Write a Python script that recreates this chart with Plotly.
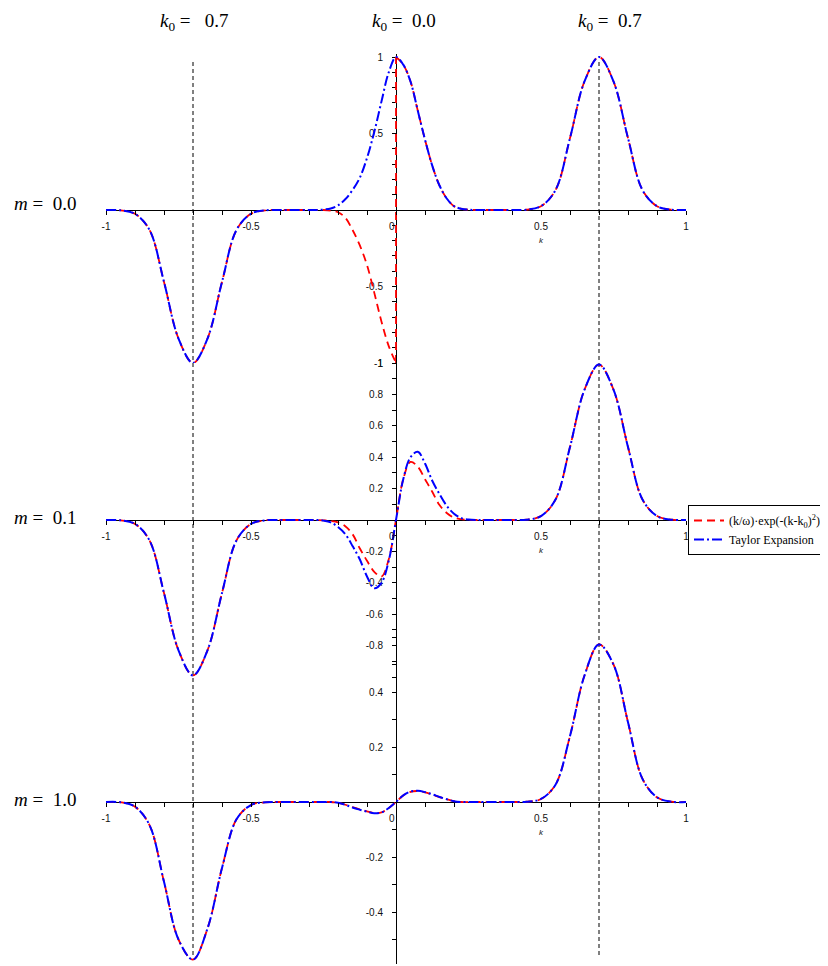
import plotly.graph_objects as go

# ---------------- data ----------------
K = [-1.0, -0.95, -0.9, -0.85, -0.8, -0.75, -0.7, -0.65, -0.6, -0.55, -0.5, -0.45, -0.4, -0.35, -0.3,
     -0.275, -0.25, -0.225, -0.2, -0.175, -0.15, -0.125, -0.1, -0.075, -0.05, -0.025, 0.0,
     0.025, 0.05, 0.075, 0.1, 0.125, 0.15, 0.175, 0.2, 0.225, 0.25, 0.275,
     0.3, 0.35, 0.4, 0.45, 0.5, 0.55, 0.6, 0.65, 0.7, 0.75, 0.8, 0.85, 0.9, 0.95, 1.0]

K0_VALUES = [-0.7, 0.0, 0.7]
K0_LABELS = ["<i>k</i><sub>0</sub>\u00a0=\u00a0\u00a0 0.7",
             "<i>k</i><sub>0</sub>\u00a0=\u00a0 0.0",
             "<i>k</i><sub>0</sub>\u00a0=\u00a0 0.7"]
M_LABELS = ["<i>m</i>\u00a0=\u00a0 0.0", "<i>m</i>\u00a0=\u00a0 0.1", "<i>m</i>\u00a0=\u00a0 1.0"]
SERIES_NAMES = ["(k/\u03c9)\u00b7exp(-(k-k<sub>0</sub>)<sup>2</sup>)", "Taylor Expansion"]

# m = 0.0 : exact curve jumps at k = 0, so it is given in two halves
RED_M0_NEG = [0, -0.002, -0.025, -0.13, -0.47, -0.84, -1.0, -0.84, -0.47, -0.13, -0.025, -0.002, 0, 0, 0,
              0, 0, -0.004, -0.015, -0.05, -0.13, -0.23, -0.36, -0.54, -0.73, -0.89, -1.0]
RED_M0_POS = [1.0, 0.95, 0.84, 0.65, 0.46, 0.29, 0.16, 0.075, 0.025, 0.008, 0.002, 0,
              0, 0, 0, 0.002, 0.025, 0.13, 0.47, 0.84, 1.0, 0.84, 0.47, 0.13, 0.025, 0.002, 0]
BLUE_M0 = [0, -0.002, -0.025, -0.13, -0.47, -0.84, -1.0, -0.84, -0.47, -0.13, -0.025, -0.002, 0, 0, 0,
           0, 0.003, 0.01, 0.03, 0.07, 0.13, 0.21, 0.34, 0.51, 0.71, 0.90, 1.0,
           0.95, 0.84, 0.65, 0.46, 0.29, 0.16, 0.075, 0.025, 0.008, 0.002, 0,
           0, 0, 0, 0.002, 0.025, 0.13, 0.47, 0.84, 1.0, 0.84, 0.47, 0.13, 0.025, 0.002, 0]

# m = 0.1
RED_M01 = [0, -0.002, -0.025, -0.13, -0.465, -0.83, -0.99, -0.83, -0.465, -0.13, -0.025, -0.002, 0, 0, 0,
           0, -0.002, -0.006, -0.015, -0.04, -0.09, -0.18, -0.26, -0.33, -0.36, -0.25, 0,
           0.26, 0.37, 0.34, 0.26, 0.18, 0.095, 0.045, 0.015, 0.005, 0.001, 0,
           0, 0, 0, 0.002, 0.025, 0.13, 0.465, 0.83, 0.99, 0.83, 0.465, 0.13, 0.025, 0.002, 0]
BLUE_M01 = [0, -0.002, -0.025, -0.13, -0.465, -0.83, -0.99, -0.83, -0.465, -0.13, -0.025, -0.002, 0, 0, 0,
            0, -0.004, -0.015, -0.045, -0.09, -0.165, -0.25, -0.36, -0.435, -0.40, -0.26, 0,
            0.26, 0.40, 0.435, 0.36, 0.25, 0.165, 0.09, 0.04, 0.012, 0.003, 0,
            0, 0, 0, 0.002, 0.025, 0.13, 0.465, 0.83, 0.99, 0.83, 0.465, 0.13, 0.025, 0.002, 0]

# m = 1.0
RED_M1 = [0, -0.001, -0.017, -0.084, -0.29, -0.50, -0.573, -0.46, -0.24, -0.063, -0.011, -0.001, 0, 0, 0,
          0, 0, 0, -0.003, -0.01, -0.019, -0.027, -0.034, -0.04, -0.038, -0.022, 0,
          0.024, 0.037, 0.04, 0.035, 0.027, 0.018, 0.01, 0.003, 0, 0, 0,
          0, 0, 0, 0.001, 0.011, 0.063, 0.24, 0.46, 0.573, 0.50, 0.29, 0.084, 0.017, 0.001, 0]
BLUE_M1 = [0, -0.001, -0.017, -0.084, -0.29, -0.50, -0.573, -0.46, -0.24, -0.063, -0.011, -0.001, 0, 0, 0,
           0, 0, 0, -0.003, -0.01, -0.02, -0.028, -0.035, -0.041, -0.038, -0.022, 0,
           0.024, 0.038, 0.041, 0.036, 0.028, 0.018, 0.01, 0.003, 0, 0, 0,
           0, 0, 0, 0.001, 0.011, 0.063, 0.24, 0.46, 0.573, 0.50, 0.29, 0.084, 0.017, 0.001, 0]

# y tick labels per panel
Y_TICKS = [
    ([-1, -0.5, 0.5, 1], ["-1", "-0.5", "0.5", "1"]),
    ([-0.8, -0.6, -0.4, -0.2, 0.2, 0.4, 0.6, 0.8, 1], ["-0.8", "-0.6", "-0.4", "-0.2", "0.2", "0.4", "0.6", "0.8", "1"]),
    ([-0.4, -0.2, 0.2, 0.4], ["-0.4", "-0.2", "0.2", "0.4"]),
]
X_TICKVALS = [-1, -0.5, 0, 0.5, 1]
X_TICKTEXT = ["-1", "-0.5", "0\u00a0\u00a0\u00a0", "0.5<br><span style='font-size:8px'><i>k</i></span>", "1"]

# ---------------- layout geometry (page pixels) ----------------
PAGE_W, PAGE_H = 828, 966
BODY = 8                      # default page margin around the plot div
W, H = PAGE_W - BODY, PAGE_H - BODY


def fx(p):
    return (p - BODY) / W


def fy(p):
    return 1 - (p - BODY) / H


X0_PIX, X_UNIT = 396, 290
PANELS = [  # zero-line pixel, pixels per unit, y range
    dict(zero=210, unit=153, rng=[-1.0, 1.02]),
    dict(zero=520, unit=157, rng=[-1.0, 1.06]),
    dict(zero=802, unit=275, rng=[-0.59, 0.62]),
]

RED = "#ff0000"
BLUE = "#0000ff"
RED_DASH = "8px,5px"
BLUE_DASH = "10px,3px,2px,3px"

fig = go.Figure()

# panel 1 red: two halves plus the vertical jump, separated by gaps
red1_x = K[:27] + [None, 0.0, 0.0, None] + K[26:]
red1_y = RED_M0_NEG + [None, RED_M0_NEG[-1], RED_M0_POS[0], None] + RED_M0_POS

series = [
    (red1_x, red1_y, BLUE_M0),
    (K, RED_M01, BLUE_M01),
    (K, RED_M1, BLUE_M1),
]

for i, (rx, ry, by) in enumerate(series):
    ax = "" if i == 0 else str(i + 1)
    fig.add_trace(go.Scatter(
        x=rx, y=ry, mode="lines", name=SERIES_NAMES[0], legendgroup="red",
        showlegend=(i == 0), connectgaps=False,
        line=dict(color=RED, width=1.8, dash=RED_DASH, shape="spline", smoothing=1.0),
        xaxis="x" + ax, yaxis="y" + ax, hoverinfo="skip"))
    fig.add_trace(go.Scatter(
        x=K, y=by, mode="lines", name=SERIES_NAMES[1], legendgroup="blue",
        showlegend=(i == 0),
        line=dict(color=BLUE, width=2, dash=BLUE_DASH, shape="spline", smoothing=1.0),
        xaxis="x" + ax, yaxis="y" + ax, hoverinfo="skip"))

tickfont = dict(family="Liberation Sans", size=10, color="#111111")
layout = dict(
    width=W, height=H,
    margin=dict(l=0, r=0, t=0, b=0, autoexpand=False),
    paper_bgcolor="white", plot_bgcolor="rgba(0,0,0,0)",
    showlegend=True,
    legend=dict(x=fx(688), y=fy(505), xanchor="left", yanchor="top",
                bordercolor="black", borderwidth=1, bgcolor="white",
                font=dict(family="Liberation Serif", size=12, color="black"),
                itemwidth=30, tracegroupgap=0),
)

for i, p in enumerate(PANELS):
    ax = "" if i == 0 else str(i + 1)
    top = p["zero"] - p["rng"][1] * p["unit"]
    bot = p["zero"] - p["rng"][0] * p["unit"]
    layout["xaxis" + ax] = dict(
        domain=[fx(X0_PIX - X_UNIT), fx(X0_PIX + X_UNIT)], range=[-1, 1],
        anchor="free", position=fy(p["zero"]), side="bottom",
        showline=False, zeroline=False, showgrid=False,
        ticks="outside", ticklen=4, tickwidth=1, tickcolor="black",
        tickmode="array", tickvals=X_TICKVALS, ticktext=X_TICKTEXT,
        tickfont=tickfont, ticklabelstandoff=3,
        minor=dict(tickmode="linear", tick0=0, dtick=0.1, ticks="outside",
                   ticklen=4, tickwidth=1, tickcolor="black", showgrid=False),
    )
    tv, tt = Y_TICKS[i]
    layout["yaxis" + ax] = dict(
        domain=[fy(bot), fy(top)], range=p["rng"],
        anchor="free", position=fx(X0_PIX), side="left",
        showline=True, linecolor="black", linewidth=1,
        zeroline=True, zerolinecolor="black", zerolinewidth=1, showgrid=False,
        ticks="outside", ticklen=4, tickwidth=1, tickcolor="black",
        tickmode="array", tickvals=tv, ticktext=tt,
        tickfont=tickfont, ticklabelstandoff=7, layer="below traces",
        minor=dict(tickmode="linear", tick0=0, dtick=0.1, ticks="outside",
                   ticklen=4, tickwidth=1, tickcolor="black", showgrid=False),
    )

fig.update_layout(**layout)

# dashed vertical guides at the off-centre k0 values
for k0 in K0_VALUES:
    if k0 != 0:
        fig.add_shape(type="line", xref="x", yref="paper", x0=k0, x1=k0,
                      y0=fy(955), y1=fy(60),
                      line=dict(color="black", width=1, dash="4px,3px"), layer="below")

# column titles
for xpix, txt in zip([194, 404, 610], K0_LABELS):
    fig.add_annotation(x=fx(xpix), y=fy(22), xref="paper", yref="paper", text=txt,
                       showarrow=False, xanchor="center", yanchor="middle",
                       font=dict(family="Liberation Serif", size=19, color="black"))

# row titles
for ypix, txt in zip([203, 517, 799], M_LABELS):
    fig.add_annotation(x=fx(12), y=fy(ypix), xref="paper", yref="paper", text=txt,
                       showarrow=False, xanchor="left", yanchor="middle",
                       font=dict(family="Liberation Serif", size=19, color="black"))

fig.write_html("out.html")
